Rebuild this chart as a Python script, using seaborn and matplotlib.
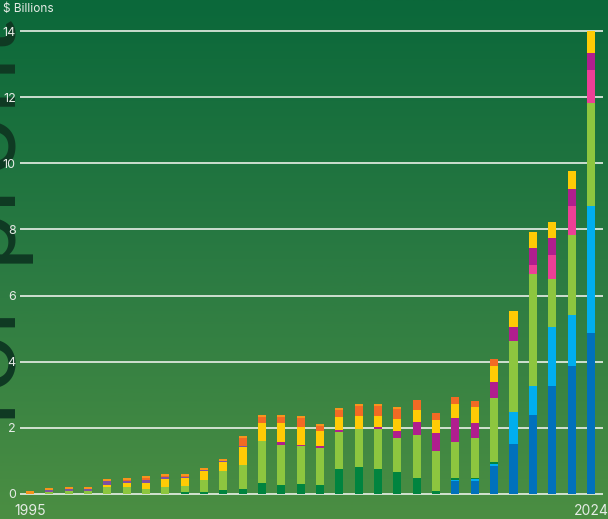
import numpy as np
import pandas as pd
import matplotlib
matplotlib.use("Agg")
import matplotlib.pyplot as plt
import seaborn as sns
from matplotlib.colors import LinearSegmentedColormap

years = [str(y) for y in range(1995, 2025)]

# $ billions per year, listed bottom of the stack first
blue = [0, 0, 0, 0, 0, 0, 0, 0, 0, 0, 0, 0, 0, 0, 0, 0, 0, 0, 0, 0, 0, 0,
        0.40, 0.40, 0.86, 1.52, 2.40, 3.28, 3.88, 4.88]
cyan = [0, 0, 0, 0, 0, 0, 0, 0, 0, 0, 0, 0, 0, 0, 0, 0, 0, 0, 0, 0, 0, 0,
        0.03, 0.06, 0.06, 0.97, 0.88, 1.78, 1.54, 3.84]
dark_green = [0, 0, 0, 0, 0, 0, 0, 0, 0.05, 0.05, 0.11, 0.14, 0.32, 0.26, 0.29,
              0.26, 0.76, 0.82, 0.76, 0.67, 0.47, 0.08, 0.06, 0.03, 0.06,
              0, 0, 0, 0, 0]
light_green = [0, 0.06, 0.09, 0.09, 0.21, 0.20, 0.14, 0.20, 0.18, 0.36, 0.60,
               0.75, 1.27, 1.21, 1.15, 1.12, 1.12, 1.15, 1.21, 1.03, 1.30,
               1.21, 1.09, 1.21, 1.91, 2.15, 3.36, 1.45, 2.42, 3.11]
pink = [0, 0, 0, 0, 0, 0, 0, 0, 0, 0, 0, 0, 0, 0, 0, 0, 0, 0, 0, 0, 0, 0,
        0, 0, 0, 0, 0.27, 0.73, 0.88, 1.00]
magenta = [0, 0, 0, 0, 0, 0, 0, 0, 0, 0, 0, 0, 0, 0.09, 0.03, 0.06, 0.06, 0,
           0.06, 0.21, 0.42, 0.54, 0.73, 0.45, 0.51, 0.42, 0.54, 0.51, 0.51, 0.51]
yellow = [0, 0, 0, 0, 0.06, 0.12, 0.18, 0.24, 0.24, 0.30, 0.27, 0.54, 0.57,
          0.60, 0.57, 0.45, 0.39, 0.39, 0.33, 0.36, 0.36, 0.42, 0.42, 0.48,
          0.48, 0.48, 0.48, 0.48, 0.54, 0.67]
violet = [0, 0.07, 0.06, 0.06, 0.11, 0.06, 0.09, 0.06, 0.03, 0.03, 0.03, 0.03,
          0, 0, 0, 0, 0, 0, 0, 0, 0, 0, 0, 0, 0, 0, 0, 0, 0, 0]
red_orange = [0, 0, 0, 0, 0, 0.03, 0.06, 0.03, 0.03, 0, 0, 0.24, 0.18, 0.18,
              0.27, 0.18, 0.21, 0.30, 0.30, 0.30, 0.30, 0.21, 0.21, 0.18, 0.21,
              0, 0, 0, 0, 0]
orange = [0.09, 0.06, 0.07, 0.06, 0.06, 0.06, 0.06, 0.06, 0.06, 0.06, 0.06,
          0.06, 0.06, 0.06, 0.06, 0.06, 0.06, 0.06, 0.06, 0.06, 0, 0, 0, 0, 0,
          0, 0, 0, 0, 0]

series = {
    "blue": (blue, "#0071BC"),
    "cyan": (cyan, "#00AEEF"),
    "dark_green": (dark_green, "#00843F"),
    "light_green": (light_green, "#8DC63F"),
    "pink": (pink, "#EC3F96"),
    "magenta": (magenta, "#B01E8E"),
    "yellow": (yellow, "#FFCB05"),
    "violet": (violet, "#7E50A0"),
    "red_orange": (red_orange, "#F26A24"),
    "orange": (orange, "#F7941D"),
}

df = pd.DataFrame({k: v[0] for k, v in series.items()}, index=years)
cum = df.cumsum(axis=1)

sns.set_style("white")
plt.rcParams["font.family"] = ["Inter", "DejaVu Sans"]

W, H = 608, 519
fig = plt.figure(figsize=(W / 100, H / 100), dpi=100)

# green gradient background
bg = fig.add_axes([0, 0, 1, 1], zorder=-1)
cmap = LinearSegmentedColormap.from_list("bg", ["#0b683a", "#2a7a42", "#4b8e42"])
bg.imshow(np.linspace(0, 1, 256).reshape(-1, 1), aspect="auto", cmap=cmap,
          extent=[0, 1, 0, 1])
bg.set_xlim(0, 1)
bg.set_ylim(0, 1)
bg.axis("off")
# big clipped watermark word on the left edge
bg.text(34 / W, 1 - 428 / H, "for profit", rotation=90, ha="right", va="bottom",
        fontsize=74, color="#0f3a23", family=["Lato", "DejaVu Sans"],
        fontweight="normal", transform=bg.transAxes, clip_on=True)

# main axes
y0, y1 = -0.1, 14.3
px_per = 33.07
bottom_px = 494 - y0 * px_per
top_px = 31 - (y1 - 14) * px_per
ax = fig.add_axes([20 / W, 1 - bottom_px / H, (603 - 20) / W, (bottom_px - top_px) / H],
                  zorder=1)
ax.set_facecolor("none")

for name in reversed(list(series.keys())):
    sns.barplot(x=years, y=cum[name].values, color=series[name][1], width=0.414,
                saturation=1, linewidth=0, errorbar=None, ax=ax, zorder=3)

ax.set_xlim((20 - 30) / 19.34, (603 - 30) / 19.34)
ax.set_ylim(y0, y1)
ax.set_yticks(range(0, 15, 2))
ax.set_yticklabels([str(v) for v in range(0, 15, 2)])
ax.set_xticks([0, 29])
ax.set_xticklabels(["1995", "2024"])
ax.grid(axis="y", color="#eef3ec", linewidth=1.3, alpha=0.9, zorder=1)
ax.grid(axis="x", visible=False)
ax.set_axisbelow(True)
for s in ax.spines.values():
    s.set_visible(False)
ax.tick_params(axis="y", length=0, pad=3, labelsize=9, labelcolor="#e6ece6")
ax.tick_params(axis="x", length=0, pad=5, labelsize=10, labelcolor="#e6ece6")
ax.set_xlabel("")
ax.set_ylabel("")

fig.text(3 / W, 1 - 9 / H, "$ Billions", ha="left", va="center", fontsize=8.5,
         color="#e6ece6")

fig.savefig("out.png", dpi=100)
